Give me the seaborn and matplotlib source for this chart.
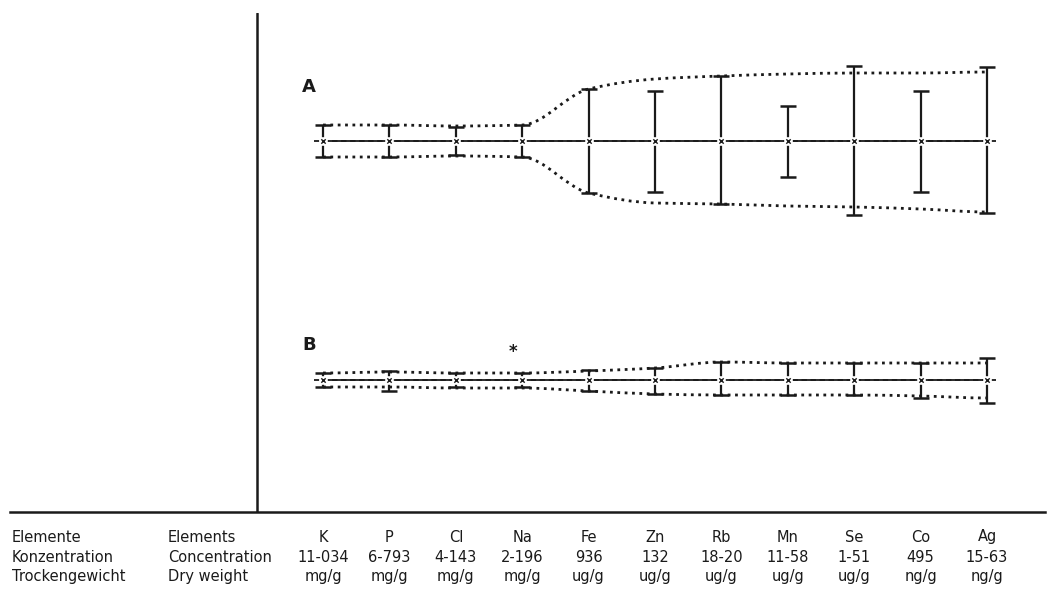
import numpy as np
import matplotlib
matplotlib.use("Agg")
import matplotlib.pyplot as plt
import seaborn as sns
from matplotlib.path import Path
from matplotlib.patches import PathPatch

sns.set_style("white")
plt.rcParams['font.family'] = ['DejaVu Sans']

# 数据：元素、浓度、单位
elements = ['K', 'P', 'Cl', 'Na', 'Fe', 'Zn', 'Rb', 'Mn', 'Se', 'Co', 'Ag']
concentration = ['11-034', '6-793', '4-143', '2-196', '936', '132',
                 '18-20', '11-58', '1-51', '495', '15-63']
units = ['mg/g', 'mg/g', 'mg/g', 'mg/g', 'ug/g', 'ug/g',
         'ug/g', 'ug/g', 'ug/g', 'ng/g', 'ng/g']

# A: 误差上/下（相对单位）和包络线
a_err_up = [16, 16, 14, 16, 52, 50, 65, 35, 75, 50, 74]
a_err_dn = [16, 16, 14, 16, 52, 51, 63, 36, 74, 51, 72]
a_env_up = [16, 16, 15, 16, 52, 62, 65, 67, 68, 68, 69]
a_env_dn = [16, 16, 15, 16, 52, 62, 63, 65, 66, 68, 71]

# B
b_err_up = [7, 9, 7, 7, 10, 12, 18, 17, 17, 17, 22]
b_err_dn = [7, 11, 7, 7, 11, 14, 15, 15, 15, 18, 23]
b_env_up = [7, 8, 7, 7, 9, 12, 18, 17, 17, 17, 17]
b_env_dn = [7, 7, 8, 8, 11, 14, 15, 15, 15, 16, 18]

row_de = ['Elemente', 'Konzentration', 'Trockengewicht']
row_en = ['Elements', 'Concentration', 'Dry weight']

ink = '#1a1a1a'

fig = plt.figure(figsize=(10.53, 5.92), dpi=100)
ax = fig.add_axes([10 / 1053, 80 / 592, 1035 / 1053, 499 / 592])

x = np.arange(len(elements))
ax.set_xlim(-4.714, 10.873)
ax.set_ylim(0, 499)


def smooth_env(xs, ys, **kw):
    # 单调三次贝塞尔曲线连接包络点
    xs = np.asarray(xs, float)
    ys = np.asarray(ys, float)
    d = np.diff(ys) / np.diff(xs)
    m = np.zeros(len(xs))
    for i in range(1, len(xs) - 1):
        if d[i - 1] * d[i] > 0:
            m[i] = 2 * d[i - 1] * d[i] / (d[i - 1] + d[i])
    verts = [(xs[0], ys[0])]
    codes = [Path.MOVETO]
    for i in range(len(xs) - 1):
        h = (xs[i + 1] - xs[i]) / 3
        verts += [(xs[i] + h, ys[i] + m[i] * h),
                  (xs[i + 1] - h, ys[i + 1] - m[i + 1] * h),
                  (xs[i + 1], ys[i + 1])]
        codes += [Path.CURVE4] * 3
    ax.add_patch(PathPatch(Path(verts, codes), fill=False, **kw))


def panel(center, up, dn, env_up, env_dn):
    up = np.array(up)
    dn = np.array(dn)
    yc = np.full(len(x), center)
    sns.lineplot(x=x, y=yc, ax=ax, color=ink, lw=1.3)
    ax.plot([x[0] - 0.13, x[-1] + 0.13], [center, center], color=ink, lw=1.3,
            dashes=(3, 2))
    ax.errorbar(x, yc, yerr=[dn, up], fmt='none', ecolor=ink, elinewidth=1.6,
                capsize=6, capthick=1.8)
    sns.scatterplot(x=x, y=yc, ax=ax, marker='s', s=30, color='white',
                    edgecolor='white', zorder=3)
    sns.scatterplot(x=x, y=yc, ax=ax, marker='x', s=10, color=ink,
                    linewidth=1.0, zorder=4)
    smooth_env(x, center + np.array(env_up), edgecolor=ink, lw=2.0, linestyle=':')
    smooth_env(x, center - np.array(env_dn), edgecolor=ink, lw=2.0, linestyle=':')


panel(371, a_err_up, a_err_dn, a_env_up, a_env_dn)
panel(132, b_err_up, b_err_dn, b_env_up, b_env_dn)

ax.text(-0.21, 425, 'A', fontsize=13, fontweight='bold', ha='center', va='center', color=ink)
ax.text(-0.21, 167, 'B', fontsize=13, fontweight='bold', ha='center', va='center', color=ink)
ax.text(2.86, 160, '*', fontsize=12, fontweight='bold', ha='center', va='center', color=ink)

# 坐标轴：只保留底线和一条竖线
for s in ['top', 'right', 'left']:
    ax.spines[s].set_visible(False)
ax.spines['bottom'].set_linewidth(1.8)
ax.spines['bottom'].set_color(ink)
ax.axvline(-1.0, ymin=0, ymax=1, color=ink, lw=1.8)
ax.set_yticks([])
ax.set_xticks(x)
ax.set_xticklabels([])
ax.tick_params(axis='x', direction='out', length=5, width=1.6, color=ink)

# 表格文字
tr = ax.get_xaxis_transform()
tr_left = matplotlib.transforms.blended_transform_factory(fig.transFigure, ax.transAxes)
rows_y = [-(537 - 512) / 499, -(557 - 512) / 499, -(577 - 512) / 499]
for i in x:
    for val, yy in zip([elements[i], concentration[i], units[i]], rows_y):
        ax.text(i, yy, val, transform=tr, ha='center', va='center',
                fontsize=10.5, color=ink)
for j, yy in enumerate(rows_y):
    ax.text(12 / 1053, yy, row_de[j], transform=tr_left,
            ha='left', va='center', fontsize=10.5, color=ink)
    ax.text(168 / 1053, yy, row_en[j], transform=tr_left,
            ha='left', va='center', fontsize=10.5, color=ink)

fig.savefig('out.png', dpi=100)
